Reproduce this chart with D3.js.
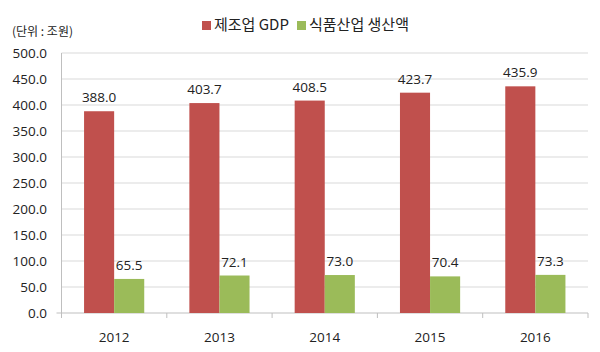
<!DOCTYPE html>
<html>
<head>
<meta charset="utf-8">
<script src="https://cdn.jsdelivr.net/npm/d3@7"></script>
<style>
  body { margin: 0; background: #fff; }
  text { font-family: "Open Sans", "Noto Sans CJK KR", sans-serif; fill: #222; }
  .kr { font-family: "Noto Sans CJK KR", sans-serif; }
</style>
</head>
<body>
<svg id="chart"></svg>
<script>
// data
const years = ['2012', '2013', '2014', '2015', '2016'];
const gdp = [388.0, 403.7, 408.5, 423.7, 435.9];
const food = [65.5, 72.1, 73.0, 70.4, 73.3];
const seriesNames = ['제조업 GDP', '식품산업 생산액'];
const seriesColors = ['#C0504D', '#9BBB59'];
const yTicks = [0, 50, 100, 150, 200, 250, 300, 350, 400, 450, 500];

const width = 600, height = 352;
const margin = { top: 53, right: 12, bottom: 39, left: 61.5 };

const svg = d3.select('#chart')
    .attr('width', width)
    .attr('height', height);

const x = d3.scaleBand()
    .domain(years)
    .range([margin.left, width - margin.right]);

const xInner = d3.scaleBand()
    .domain([0, 1])
    .range([0, x.bandwidth()])
    .paddingOuter(0.75)
    .paddingInner(0);

const y = d3.scaleLinear()
    .domain([0, 500])
    .range([height - margin.bottom, margin.top]);

// gridlines
svg.append('g')
    .selectAll('line')
    .data(yTicks.slice(1))
    .join('line')
    .attr('x1', margin.left)
    .attr('x2', width - margin.right)
    .attr('y1', d => y(d))
    .attr('y2', d => y(d))
    .attr('stroke', '#d9d9d9')
    .attr('stroke-width', 1);

// y tick labels
svg.append('g')
    .selectAll('text')
    .data(yTicks)
    .join('text')
    .attr('x', 47)
    .attr('y', d => y(d))
    .attr('dy', '0.35em')
    .attr('text-anchor', 'end')
    .attr('font-size', 13.5)
    .text(d => d.toFixed(1));

// axes lines
svg.append('line')
    .attr('x1', margin.left).attr('x2', margin.left)
    .attr('y1', margin.top).attr('y2', y(0) + 5)
    .attr('stroke', '#bfbfbf');

svg.append('line')
    .attr('x1', margin.left - 5).attr('x2', width - margin.right)
    .attr('y1', y(0)).attr('y2', y(0))
    .attr('stroke', '#bfbfbf');

// category tick marks
svg.append('g')
    .selectAll('line')
    .data(years.concat(['end']))
    .join('line')
    .attr('x1', (d, i) => i < years.length ? x(d) : x(years[years.length - 1]) + x.bandwidth())
    .attr('x2', (d, i) => i < years.length ? x(d) : x(years[years.length - 1]) + x.bandwidth())
    .attr('y1', y(0))
    .attr('y2', y(0) + 5)
    .attr('stroke', '#bfbfbf');

// year labels
svg.append('g')
    .selectAll('text')
    .data(years)
    .join('text')
    .attr('x', d => x(d) + x.bandwidth() / 2)
    .attr('y', 342)
    .attr('text-anchor', 'middle')
    .attr('font-size', 13.5)
    .text(d => d);

// bars
const series = [gdp, food];
series.forEach((vals, s) => {
    const g = svg.append('g');
    g.selectAll('rect')
        .data(vals)
        .join('rect')
        .attr('x', (d, i) => x(years[i]) + xInner(s))
        .attr('y', d => y(d))
        .attr('width', xInner.bandwidth())
        .attr('height', d => y(0) - y(d))
        .attr('fill', seriesColors[s]);
    g.selectAll('text')
        .data(vals)
        .join('text')
        .attr('x', (d, i) => x(years[i]) + xInner(s) + xInner.bandwidth() / 2)
        .attr('y', d => y(d) - 9)
        .attr('text-anchor', 'middle')
        .attr('font-size', 13.5)
        .text(d => d.toFixed(1));
});

// unit label
svg.append('text')
    .attr('class', 'kr')
    .attr('x', 12)
    .attr('y', 36)
    .attr('font-size', 12)
    .attr('fill', '#444')
    .text('(단위 : 조원)');

// legend
const legendX = [202, 297];
const legend = svg.append('g');
legend.selectAll('rect')
    .data(seriesNames)
    .join('rect')
    .attr('x', (d, i) => legendX[i])
    .attr('y', 21)
    .attr('width', 9)
    .attr('height', 9)
    .attr('fill', (d, i) => seriesColors[i]);
legend.selectAll('text')
    .data(seriesNames)
    .join('text')
    .attr('class', 'kr')
    .attr('x', (d, i) => legendX[i] + 12)
    .attr('y', 25)
    .attr('dy', '0.35em')
    .attr('font-size', 15)
    .text(d => d);
</script>
</body>
</html>
